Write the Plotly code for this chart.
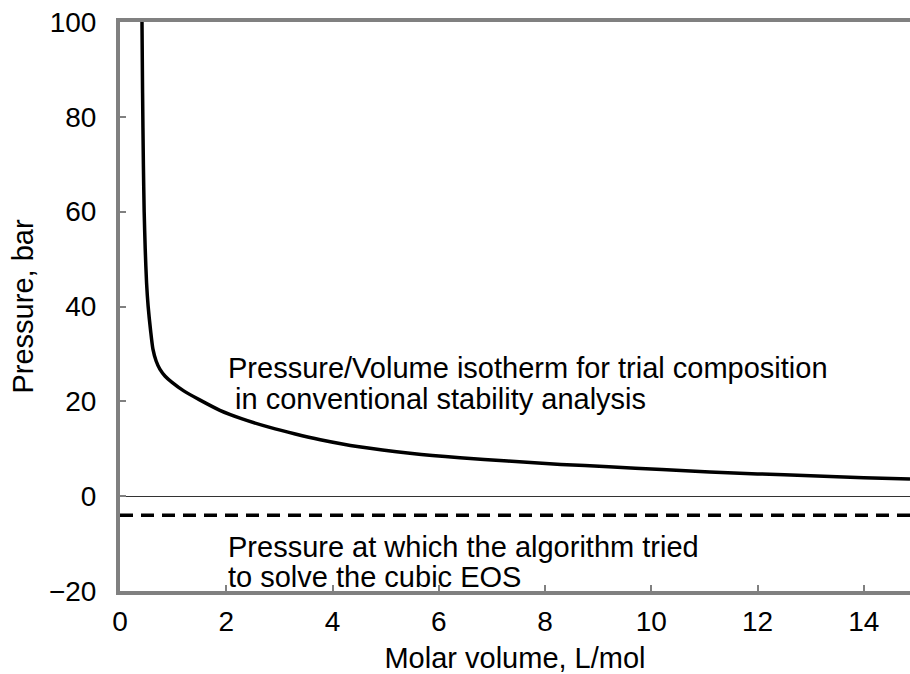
import plotly.graph_objects as go

# Isotherm
volume = [0.414, 0.425, 0.44, 0.455, 0.475, 0.50, 0.53, 0.575, 0.62, 0.68, 0.75, 0.85, 0.98,
          1.2, 1.5, 1.88, 2.3, 2.82, 3.3, 3.77, 4.5, 5.5, 6.4, 7.3, 8.3, 9.2,
          10.2, 11.1, 12.0, 13.0, 14.0, 14.87]
pressure = [100, 85, 70, 60, 52, 45, 40, 35, 31, 28.5, 26.8, 25.3, 24,
            22.2, 20.3, 18.1, 16.3, 14.5, 13.1, 11.9, 10.4, 9.0, 8.1, 7.4, 6.7, 6.2,
            5.6, 5.1, 4.7, 4.3, 3.9, 3.6]

trial_volume = [0, 15]
trial_pressure = [-4, -4]

x_ticks = [0, 2, 4, 6, 8, 10, 12, 14]
y_ticks = [-20, 0, 20, 40, 60, 80, 100]

FONT = "Liberation Sans, Arial, Helvetica, sans-serif"
FS = 28
FS_TXT = 29

fig = go.Figure()
fig.add_trace(go.Scatter(x=trial_volume, y=trial_pressure, mode="lines",
                         line=dict(color="black", width=3.5, dash="13px,8px"),
                         showlegend=False, hoverinfo="skip"))
fig.add_trace(go.Scatter(x=volume, y=pressure, mode="lines",
                         line=dict(color="black", width=3.5, shape="spline",
                                   smoothing=0.7),
                         showlegend=False))

ann = [
    dict(x=2.0, y=27.0, text="Pressure/Volume isotherm for trial composition"),
    dict(x=2.12, y=20.5, text="in conventional stability analysis"),
    dict(x=2.0, y=-10.8, text="Pressure at which the algorithm tried"),
    dict(x=2.0, y=-17.1, text="to solve the cubic EOS"),
]
for a in ann:
    fig.add_annotation(x=a["x"], y=a["y"], text=a["text"], xref="x", yref="y",
                       xanchor="left", yanchor="middle", showarrow=False,
                       font=dict(family=FONT, size=FS_TXT, color="black"))

fig.update_layout(
    width=910, height=674,
    margin=dict(l=120, r=0, t=22, b=83),
    paper_bgcolor="white", plot_bgcolor="white",
    font=dict(family=FONT, size=FS, color="black"),
    showlegend=False,
)
fig.update_xaxes(range=[0, 14.87], tickvals=x_ticks, ticks="inside", ticklen=6,
                 tickwidth=2, tickcolor="#808080", showline=True, linewidth=4,
                 linecolor="#808080", mirror=True, showgrid=False, zeroline=False,
                 ticklabelstandoff=2,
                 title=dict(text="Molar volume, L/mol", standoff=14,
                            font=dict(size=FS_TXT)))
fig.update_yaxes(range=[-20, 100], tickvals=y_ticks, ticks="inside", ticklen=6,
                 tickwidth=2, tickcolor="#808080", showline=True, linewidth=4,
                 linecolor="#808080", mirror=False, showgrid=False,
                 zeroline=True, zerolinecolor="#333333", zerolinewidth=1,
                 ticklabelstandoff=14, tickformat="d",
                 title=dict(text="Pressure, bar", standoff=8, font=dict(size=FS_TXT)))

fig.write_html("out.html")
